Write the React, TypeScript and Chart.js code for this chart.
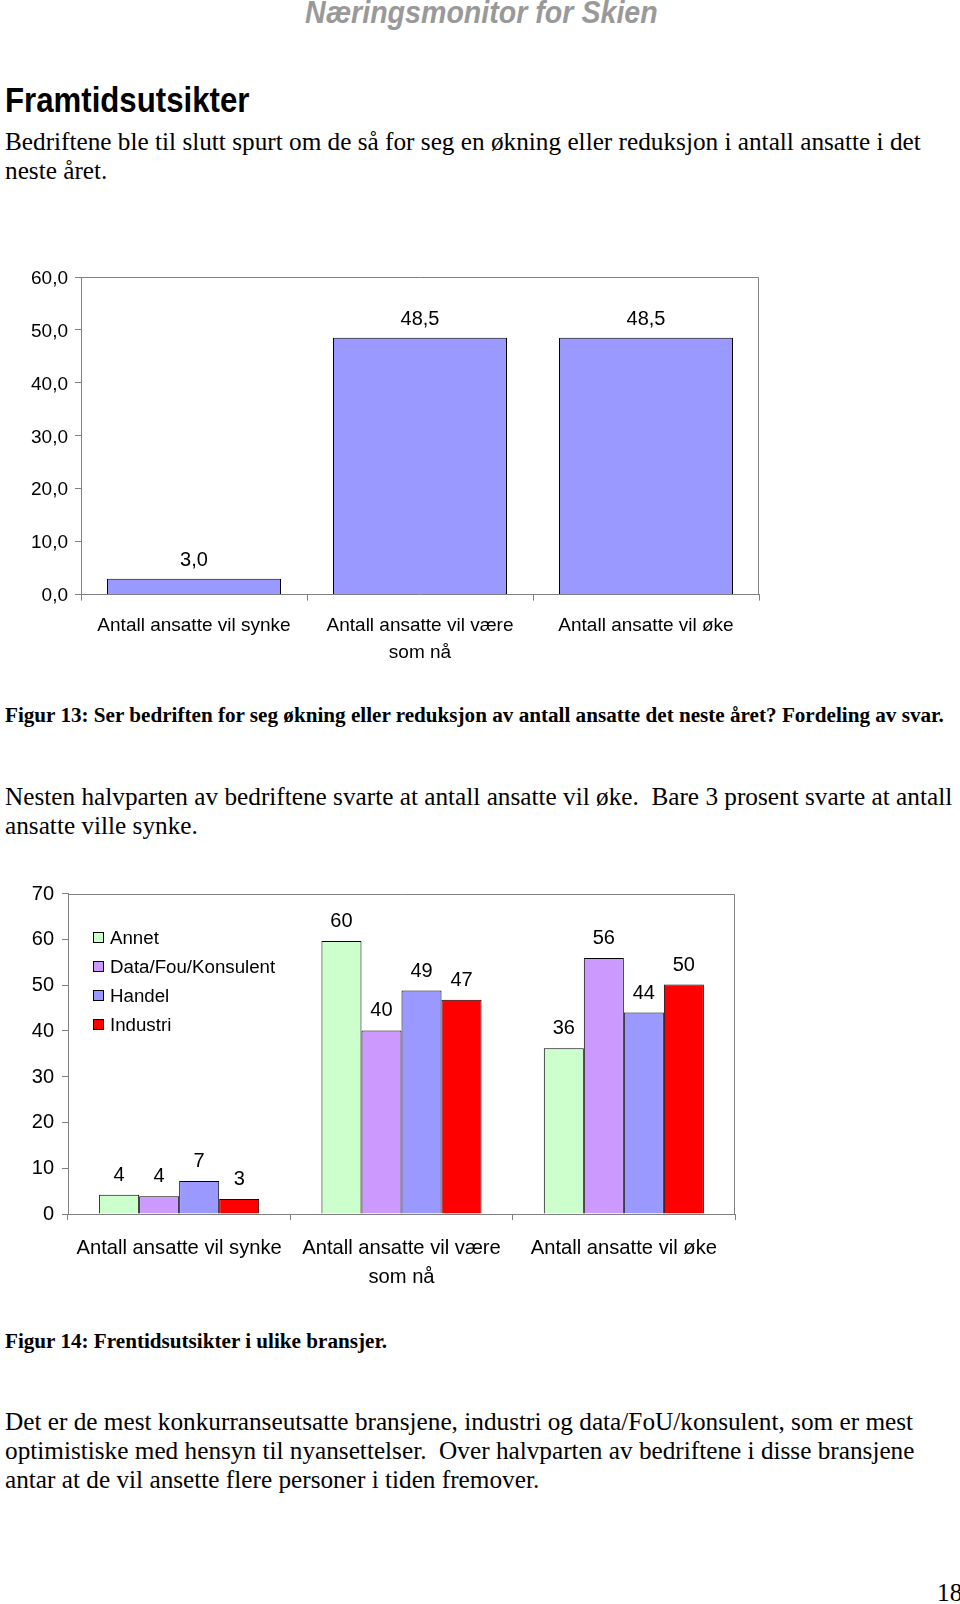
import React, { useEffect, useRef } from "react";
import { Chart, registerables } from "chart.js";

Chart.register(...registerables);

// ---------- data ----------
const categories: string[][] = [
  ["Antall ansatte vil synke"],
  ["Antall ansatte vil være", "som nå"],
  ["Antall ansatte vil øke"],
];

const fig13Values = [3.0, 48.5, 48.5];
const fig13YMax = 60;
const fig13Step = 10;

const fig14Series = ["Annet", "Data/Fou/Konsulent", "Handel", "Industri"];
const annetValues = [4.2, 59.6, 36.2];
const dataFouValues = [3.9, 40.1, 55.9];
const handelValues = [7.2, 48.8, 44.0];
const industriValues = [3.3, 46.8, 50.1];
const fig14YMax = 70;
const fig14Step = 10;

// ---------- styles ----------
const SANS = '"Liberation Sans", Arial, Helvetica, sans-serif';
const SERIF = '"Liberation Serif", "Times New Roman", Times, serif';
const GRAY = "#808080";

const comma1 = (v: number) => v.toFixed(1).replace(".", ",");
const round0 = (v: number) => String(Math.round(v));

function framePlugin() {
  return {
    id: "frame",
    beforeDatasetsDraw(chart: any) {
      const { ctx, chartArea: a } = chart;
      ctx.save();
      ctx.strokeStyle = GRAY;
      ctx.lineWidth = 1;
      const top = Math.round(a.top) + 0.5;
      const right = Math.round(a.right) - 0.5;
      ctx.beginPath();
      ctx.moveTo(Math.round(a.left), top);
      ctx.lineTo(right, top);
      ctx.lineTo(right, Math.round(a.bottom));
      ctx.stroke();
      ctx.restore();
    },
  };
}

function valueLabelPlugin(fmt: (v: number) => string, size: number, offset: number) {
  return {
    id: "valueLabels",
    afterDatasetsDraw(chart: any) {
      const ctx = chart.ctx;
      ctx.save();
      ctx.font = `${size}px ${SANS}`;
      ctx.fillStyle = "#000";
      ctx.textAlign = "center";
      ctx.textBaseline = "middle";
      chart.data.datasets.forEach((ds: any, i: number) => {
        const meta = chart.getDatasetMeta(i);
        meta.data.forEach((el: any, j: number) => {
          ctx.fillText(fmt(ds.data[j]), el.x, el.y - offset);
        });
      });
      ctx.restore();
    },
  };
}

function insideLegendPlugin() {
  return {
    id: "insideLegend",
    afterDraw(chart: any) {
      const { ctx, chartArea: a } = chart;
      ctx.save();
      ctx.font = `18.7px ${SANS}`;
      ctx.textAlign = "left";
      ctx.textBaseline = "middle";
      chart.data.datasets.forEach((ds: any, i: number) => {
        const cy = Math.round(a.top + 44 + i * 29);
        const x = Math.round(a.left + 24.5);
        ctx.fillStyle = ds.backgroundColor;
        ctx.fillRect(x, cy - 6, 11, 11);
        ctx.strokeStyle = "#000";
        ctx.lineWidth = 1;
        ctx.strokeRect(x + 0.5, cy - 5.5, 10, 10);
        ctx.fillStyle = "#000";
        ctx.fillText(ds.label, a.left + 42, cy + 1);
      });
      ctx.restore();
    },
  };
}

function makeFig13(): any {
  return {
    type: "bar",
    data: {
      labels: categories,
      datasets: [
        {
          label: "Andel",
          data: fig13Values,
          backgroundColor: "#9999FF",
          borderColor: "#000000",
          borderWidth: 1,
          barPercentage: 1,
          categoryPercentage: 0.77,
        },
      ],
    },
    options: {
      responsive: false,
      maintainAspectRatio: false,
      animation: false,
      layout: { padding: { top: 27, right: 21, left: 0, bottom: 0 } },
      plugins: { legend: { display: false }, tooltip: { enabled: false } },
      scales: {
        x: {
          grid: { offset: true, drawOnChartArea: false, drawTicks: true, tickLength: 6, color: GRAY, lineWidth: 1 },
          border: { display: true, color: GRAY, width: 1 },
          ticks: {
            font: { family: SANS, size: 19, lineHeight: 1.42 },
            color: "#000",
            padding: 12,
            maxRotation: 0,
            autoSkip: false,
          },
          afterFit: (s: any) => {
            s.height = 85.4;
          },
        },
        y: {
          min: 0,
          max: fig13YMax,
          ticks: {
            stepSize: fig13Step,
            callback: (v: any) => comma1(Number(v)),
            font: { family: SANS, size: 19 },
            color: "#000",
            padding: 7,
            labelOffset: 1.5,
          },
          grid: { drawOnChartArea: false, drawTicks: true, tickLength: 6, color: GRAY },
          border: { display: true, color: GRAY, width: 1 },
          afterFit: (s: any) => {
            s.width = 81;
          },
        },
      },
    },
    plugins: [framePlugin(), valueLabelPlugin(comma1, 20, 18.5)],
  };
}

function makeFig14(): any {
  const colors = ["#CCFFCC", "#CC99FF", "#9999FF", "#FF0000"];
  const series = [annetValues, dataFouValues, handelValues, industriValues];
  return {
    type: "bar",
    data: {
      labels: categories,
      datasets: fig14Series.map((name, i) => ({
        label: name,
        data: series[i],
        backgroundColor: colors[i],
        borderColor: "#000000",
        borderWidth: 1,
        barPercentage: 1,
        categoryPercentage: 0.72,
      })),
    },
    options: {
      responsive: false,
      maintainAspectRatio: false,
      animation: false,
      layout: { padding: { top: 33.5, right: 25, left: 0, bottom: 0 } },
      plugins: { legend: { display: false }, tooltip: { enabled: false } },
      scales: {
        x: {
          grid: { offset: true, drawOnChartArea: false, drawTicks: true, tickLength: 6, color: GRAY, lineWidth: 1 },
          border: { display: true, color: GRAY, width: 1 },
          ticks: {
            font: { family: SANS, size: 20.2, lineHeight: 1.425 },
            color: "#000",
            padding: 14.5,
            maxRotation: 0,
            autoSkip: false,
          },
          afterFit: (s: any) => {
            s.height = 76;
          },
        },
        y: {
          min: 0,
          max: fig14YMax,
          ticks: {
            stepSize: fig14Step,
            callback: (v: any) => String(v),
            font: { family: SANS, size: 20 },
            color: "#000",
            padding: 8,
            labelOffset: 0.5,
          },
          grid: { drawOnChartArea: false, drawTicks: true, tickLength: 6, color: GRAY },
          border: { display: true, color: GRAY, width: 1 },
          afterFit: (s: any) => {
            s.width = 68;
          },
        },
      },
    },
    plugins: [framePlugin(), valueLabelPlugin(round0, 20, 19.5), insideLegendPlugin()],
  };
}

function ChartCanvas(props: { make: () => any; left: number; top: number; width: number; height: number }) {
  const ref = useRef<HTMLCanvasElement>(null);
  useEffect(() => {
    const chart = new Chart(ref.current as HTMLCanvasElement, props.make());
    return () => chart.destroy();
  }, []);
  return (
    <canvas
      ref={ref}
      width={props.width}
      height={props.height}
      style={{ position: "absolute", left: props.left, top: props.top, width: props.width, height: props.height }}
    />
  );
}

function TextLine(props: {
  cy: number;
  left: number;
  size: number;
  family: string;
  bold?: boolean;
  italic?: boolean;
  color?: string;
  stretch?: number;
  children: React.ReactNode;
}) {
  const lh = Math.round(props.size * 1.3);
  return (
    <div
      style={{
        position: "absolute",
        left: props.left,
        top: props.cy - lh / 2,
        lineHeight: `${lh}px`,
        fontSize: props.size,
        fontFamily: props.family,
        fontWeight: props.bold ? "bold" : "normal",
        fontStyle: props.italic ? "italic" : "normal",
        color: props.color || "#000",
        whiteSpace: "pre",
        transform: props.stretch ? `scaleY(${props.stretch})` : undefined,
        transformOrigin: "50% 50%",
      }}
    >
      {props.children}
    </div>
  );
}

export default function App() {
  const body = 25.25;
  const cap = 21.15;
  return (
    <div style={{ position: "absolute", left: 0, top: 0, width: 960, height: 1604, background: "#fff", overflow: "hidden" }}>
      <TextLine cy={12.5} left={305} size={28.6} family={SANS} bold italic color="#999999" stretch={1.08}>
        Næringsmonitor for Skien
      </TextLine>
      <TextLine cy={100.5} left={5} size={31.2} family={SANS} bold stretch={1.12}>
        Framtidsutsikter
      </TextLine>
      <TextLine cy={141} left={5} size={body} family={SERIF}>
        Bedriftene ble til slutt spurt om de så for seg en økning eller reduksjon i antall ansatte i det
      </TextLine>
      <TextLine cy={170} left={5} size={body} family={SERIF}>
        neste året.
      </TextLine>

      <ChartCanvas make={makeFig13} left={0} top={250} width={780} height={430} />

      <TextLine cy={715.5} left={5} size={cap} family={SERIF} bold>
        Figur 13: Ser bedriften for seg økning eller reduksjon av antall ansatte det neste året? Fordeling av svar.
      </TextLine>
      <TextLine cy={796} left={5} size={body} family={SERIF}>
        {"Nesten halvparten av bedriftene svarte at antall ansatte vil øke.  Bare 3 prosent svarte at antall"}
      </TextLine>
      <TextLine cy={825} left={5} size={body} family={SERIF}>
        ansatte ville synke.
      </TextLine>

      <ChartCanvas make={makeFig14} left={0} top={860} width={760} height={430} />

      <TextLine cy={1341} left={5} size={cap} family={SERIF} bold>
        Figur 14: Frentidsutsikter i ulike bransjer.
      </TextLine>
      <TextLine cy={1421} left={5} size={body} family={SERIF}>
        Det er de mest konkurranseutsatte bransjene, industri og data/FoU/konsulent, som er mest
      </TextLine>
      <TextLine cy={1450} left={5} size={body} family={SERIF}>
        {"optimistiske med hensyn til nyansettelser.  Over halvparten av bedriftene i disse bransjene"}
      </TextLine>
      <TextLine cy={1479.5} left={5} size={body} family={SERIF}>
        antar at de vil ansette flere personer i tiden fremover.
      </TextLine>
      <TextLine cy={1592.5} left={937} size={body} family={SERIF}>
        18
      </TextLine>
    </div>
  );
}
